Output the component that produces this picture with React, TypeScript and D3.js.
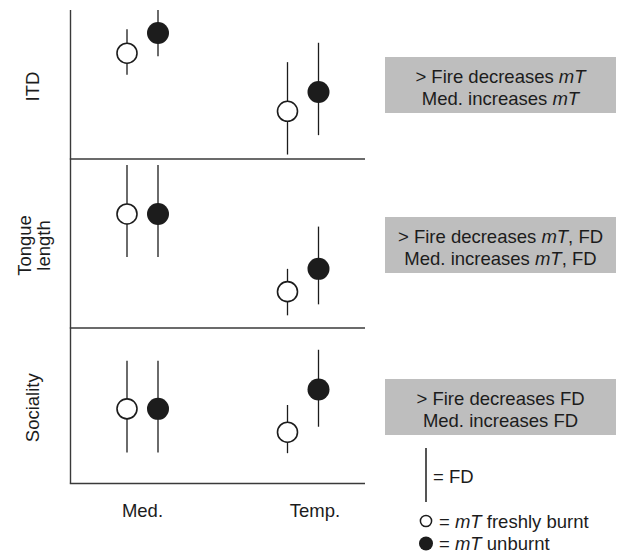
import React from 'react';
import * as d3 from 'd3';

const regions = ['Med.', 'Temp.'];
const traitLabels = [['ITD'], ['Tongue', 'length'], ['Sociality']];

// relative trait values (0-100 within each panel), rows = trait, columns = region
const freshMean = [[71, 32], [67.5, 21.5], [48, 33]];
const freshLow = [[56.5, 3], [42, 7.5], [20, 19.5]];
const freshHigh = [[87, 65], [96.5, 35], [79, 50.5]];
const unburntMean = [[84.5, 45], [67.5, 35], [48, 60.5]];
const unburntLow = [[69, 16], [42, 14], [20, 36.5]];
const unburntHigh = [[100, 78], [96.5, 60], [79, 86]];

const summaryLines = [
  ['> Fire decreases mT', 'Med. increases mT'],
  ['> Fire decreases mT, FD', 'Med. increases mT, FD'],
  ['> Fire decreases FD', 'Med. increases FD'],
];
const legendFD = '= FD';
const legendSeries = ['= mT freshly burnt', '= mT unburnt'];

const W = 618;
const H = 554;
const left = 70.5;
const right = 365;
const panelEdges = [10, 159, 328, 483.5];
const boxTops = [57, 217, 379];
const boxHeight = 56;
const font = '"Liberation Sans", Arial, Helvetica, sans-serif';
const ink = '#1c1c1c';
const axisColor = '#3a3a3a';
const fs = 18.5;

const rich = (s: string) =>
  s.split(/(mT)/).filter(Boolean).map((p, k) =>
    p === 'mT'
      ? <tspan key={k} fontStyle="italic">mT</tspan>
      : <tspan key={k}>{p}</tspan>
  );

export default function App() {
  const x = d3.scalePoint<string>().domain(regions).range([142.5, 303]);
  const dodge = 15.5;
  const series = [
    { mean: freshMean, low: freshLow, high: freshHigh, filled: false, dx: -dodge },
    { mean: unburntMean, low: unburntLow, high: unburntHigh, filled: true, dx: dodge },
  ];

  const panels = traitLabels.map((lab, i) => {
    const top = panelEdges[i];
    const bottom = panelEdges[i + 1];
    const y = d3.scaleLinear().domain([0, 100]).range([bottom, top]);
    return { lab, top, bottom, y };
  });

  return (
    <svg width={W} height={H} style={{ position: 'absolute', left: 0, top: 0 }}
      fontFamily={font} fill={ink}>
      <rect width={W} height={H} fill="#fff" />

      {/* frame */}
      <line x1={left} x2={left} y1={panelEdges[0]} y2={panelEdges[3]}
        stroke={axisColor} strokeWidth={1.4} />
      {panelEdges.slice(1).map((e, i) => (
        <line key={i} x1={left - 0.7} x2={right} y1={e} y2={e}
          stroke={axisColor} strokeWidth={1.4} />
      ))}

      {panels.map((p, i) => (
        <g key={i}>
          <text
            transform={`translate(${p.lab.length > 1 ? 30.5 : 38.5},${(p.top + p.bottom) / 2 + 2}) rotate(-90)`}
            textAnchor="middle" fontSize={fs}>
            {p.lab.map((l, k) => (
              <tspan key={k} x={0} dy={k === 0 ? 0 : 19.5}>{l}</tspan>
            ))}
          </text>
          {series.map((s, si) => regions.map((r, ri) => {
            const cx = (x(r) as number) + s.dx;
            return (
              <g key={`${si}-${ri}`}>
                <line x1={cx} x2={cx} y1={p.y(s.low[i][ri])} y2={p.y(s.high[i][ri])}
                  stroke={ink} strokeWidth={1.3} />
                <circle cx={cx} cy={p.y(s.mean[i][ri])} r={s.filled ? 11 : 10}
                  fill={s.filled ? ink : '#fff'} stroke={s.filled ? 'none' : ink}
                  strokeWidth={1.6} />
              </g>
            );
          }))}
        </g>
      ))}

      {/* region labels */}
      {regions.map((r, i) => (
        <text key={r} x={(x(r) as number) + (i === 0 ? 0 : 12)} y={517}
          textAnchor="middle" fontSize={fs}>{r}</text>
      ))}

      {/* summary boxes */}
      {summaryLines.map((lines, i) => (
        <g key={i}>
          <rect x={385} y={boxTops[i]} width={231} height={boxHeight} fill="#bebebe" />
          {lines.map((l, k) => (
            <text key={k} x={500.5} y={boxTops[i] + 25.5 + k * 22} textAnchor="middle"
              fontSize={fs} style={{ whiteSpace: 'pre' }}>{rich(l)}</text>
          ))}
        </g>
      ))}

      {/* legend */}
      <line x1={426} x2={426} y1={448} y2={502} stroke={ink} strokeWidth={1.5} />
      <text x={433} y={483} fontSize={fs}>{legendFD}</text>
      {legendSeries.map((l, i) => (
        <g key={i}>
          <circle cx={426} cy={521 + i * 22.5} r={i === 0 ? 5.6 : 7}
            fill={i === 0 ? '#fff' : ink} stroke={i === 0 ? ink : 'none'} strokeWidth={1.5} />
          <text x={439} y={528 + i * 22} fontSize={fs} style={{ whiteSpace: 'pre' }}>
            {rich(l)}
          </text>
        </g>
      ))}
    </svg>
  );
}
